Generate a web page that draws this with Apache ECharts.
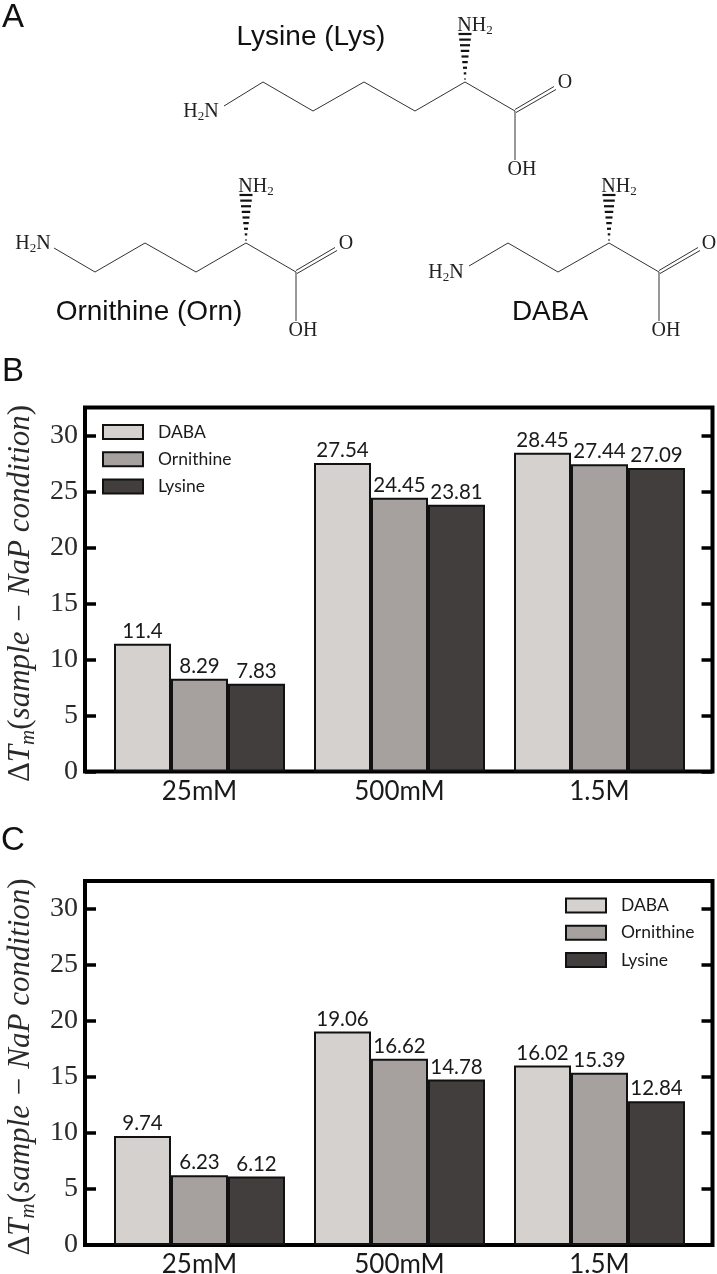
<!DOCTYPE html>
<html><head><meta charset="utf-8">
<style>html,body{margin:0;padding:0;background:#fff}#c{width:717px;height:1274px}</style>
<script src="https://cdn.jsdelivr.net/npm/echarts@6/dist/echarts.min.js"></script>
</head><body><div id="c"></div>
<script>
const categories = ['25mM', '500mM', '1.5M'];
const seriesNames = ['DABA', 'Ornithine', 'Lysine'];
const panelB_DABA = [11.4, 27.54, 28.45];
const panelB_Ornithine = [8.29, 24.45, 27.44];
const panelB_Lysine = [7.83, 23.81, 27.09];
const panelC_DABA = [9.74, 19.06, 16.02];
const panelC_Ornithine = [6.23, 16.62, 15.39];
const panelC_Lysine = [6.12, 14.78, 12.84];
const yTicks = [0, 5, 10, 15, 20, 25, 30];
const colors = ['#d4d1cf', '#a6a19e', '#423e3d'];

const SERIF = '"Liberation Serif"', SANS = '"Liberation Sans"', CMSS = 'Lato';
const INK = '#2a2a2a';
const catPos = categories.map((_, i) => i);

function xAxis(gi) {
  return {
    type: 'value', gridIndex: gi, min: -0.5725, max: 2.565,
    axisLine: {show: false, onZero: false}, axisTick: {show: false}, splitLine: {show: false},
    axisLabel: {
      customValues: catPos, formatter: v => categories[Math.round(v)],
      fontFamily: CMSS, fontSize: 26, color: '#1a1a1a', margin: 7
    }
  };
}
function yAxes(gi) {
  const common = {
    type: 'value', gridIndex: gi, min: 0, max: 32.5, splitLine: {show: false},
    axisLine: {show: false, onZero: false},
    axisTick: {show: true, inside: true, length: 11, customValues: yTicks, lineStyle: {color: '#000', width: 3.5}}
  };
  const it = {fontFamily: SERIF, fontStyle: 'italic', fontSize: 31, color: INK, lineHeight: 36};
  const up = {fontFamily: SERIF, fontSize: 31, color: INK, lineHeight: 36};
  return [
    Object.assign({}, common, {
      position: 'left',
      name: '{u|Δ}{d|T}{s|m}{u|(}{d|sample − NaP condition}{u|)}',
      nameLocation: 'middle', nameRotate: 90, nameGap: 46,
      nameTextStyle: {
        padding: [0, 8, 0, 0],
        rich: {
          d: it, u: up,
          s: {fontFamily: SERIF, fontStyle: 'italic', fontSize: 21, color: INK, lineHeight: 24, verticalAlign: 'bottom'}
        }
      },
      axisLabel: {customValues: yTicks, fontFamily: SERIF, fontSize: 28, color: INK, margin: 7}
    }),
    Object.assign({}, common, {position: 'right', axisLabel: {show: false}})
  ];
}
function bars(gi, arrays) {
  return arrays.map((vals, i) => ({
    name: seriesNames[i], type: 'bar', xAxisIndex: gi, yAxisIndex: gi * 2,
    barWidth: 57, barGap: 0,
    data: vals.map((v, k) => [catPos[k], v]),
    itemStyle: {color: colors[i], borderColor: '#111', borderWidth: 2},
    label: {
      show: true, position: 'top', distance: 2, formatter: p => String(p.value[1]),
      fontFamily: CMSS, fontSize: 20.5, color: '#1a1a1a'
    }
  }));
}
function legend(pos) {
  return Object.assign({
    orient: 'vertical', selectedMode: false, itemWidth: 40, itemHeight: 14, itemGap: 9.3,
    icon: 'rect', data: seriesNames,
    itemStyle: {borderColor: '#111', borderWidth: 2},
    textStyle: {fontFamily: CMSS, fontSize: 17.5, color: '#1a1a1a', padding: [0, 0, 0, 10]}, padding: 0
  }, pos);
}

/* chemical structure drawing */
const gfx = [];
const line = pts => gfx.push({type: 'polyline', silent: true, shape: {points: pts}, style: {stroke: '#333', lineWidth: 1, fill: null}});
function chem(x, y, text) {
  gfx.push({type: 'text', silent: true, x, y, style: {
    text, align: 'center', verticalAlign: 'middle',
    rich: {a: {fontFamily: SERIF, fontSize: 20, fill: '#222', lineHeight: 22}, s: {fontFamily: SERIF, fontSize: 13, fill: '#222', lineHeight: 15, verticalAlign: 'bottom'}}
  }});
}
function title(x, y, text, size) {
  gfx.push({type: 'text', silent: true, x, y, style: {text, align: 'center', verticalAlign: 'middle', fontFamily: SANS, fontSize: size, fill: '#111'}});
}
function wedge(x, top, bottom) {
  const n = 9;
  for (let i = 0; i < n; i++) {
    const t = i / (n - 1), yy = top + (bottom - top - 3) * t, w = 12 * (1 - t) + 1;
    gfx.push({type: 'line', silent: true, shape: {x1: x - w / 2, y1: yy, x2: x + w / 2, y2: yy}, style: {stroke: '#111', lineWidth: 2.2}});
  }
}
function acid(cx, cy) {
  const ex = cx + 40, ey = cy - 23;
  line([[cx, cy - 1.5], [ex - 1, ey - 1.5]]);
  line([[cx + 1, cy + 1.5], [ex + 1, ey + 1.5]]);
  line([[cx, cy], [cx, cy + 49]]);
  chem(cx + 50, cy - 28, '{a|O}');
  chem(cx + 7, cy + 59, '{a|OH}');
}
line([[224,106],[263,82],[313,111],[364,82],[415,111],[465,82],[515,111]]);
wedge(465, 34, 82); acid(515, 111);
chem(201, 112, '{a|H}{s|2}{a|N}'); chem(475, 26, '{a|NH}{s|2}');
line([[54,248],[95,272],[145,243],[196,272],[246,243],[296,272]]);
wedge(246, 195, 243); acid(296, 272);
chem(33, 244, '{a|H}{s|2}{a|N}'); chem(256, 187, '{a|NH}{s|2}');
line([[469,266],[508,243],[558,272],[609,243],[659,272]]);
wedge(609, 195, 243); acid(659, 272);
chem(446, 273, '{a|H}{s|2}{a|N}'); chem(619, 187, '{a|NH}{s|2}');
title(311, 37, 'Lysine (Lys)', 28);
title(149, 312, 'Ornithine (Orn)', 28);
title(550, 312, 'DABA', 28);
title(13, 18, 'A', 33); title(13, 372, 'B', 33); title(13, 841, 'C', 33);

const gridBase = {left: 85, width: 627.5, height: 364, outerBoundsMode: 'none', show: true, backgroundColor: 'transparent', borderColor: '#000', borderWidth: 4};
const chart = echarts.init(document.getElementById('c'), null, {renderer: 'canvas'});
chart.setOption({
  animation: false, backgroundColor: '#fff',
  grid: [Object.assign({top: 407.5}, gridBase), Object.assign({top: 881}, gridBase)],
  xAxis: [xAxis(0), xAxis(1)],
  yAxis: [...yAxes(0), ...yAxes(1)],
  legend: [legend({left: 102, top: 423}), legend({left: 565, top: 896.5})],
  series: [
    ...bars(0, [panelB_DABA, panelB_Ornithine, panelB_Lysine]),
    ...bars(1, [panelC_DABA, panelC_Ornithine, panelC_Lysine])
  ],
  graphic: gfx
});
</script></body></html>
